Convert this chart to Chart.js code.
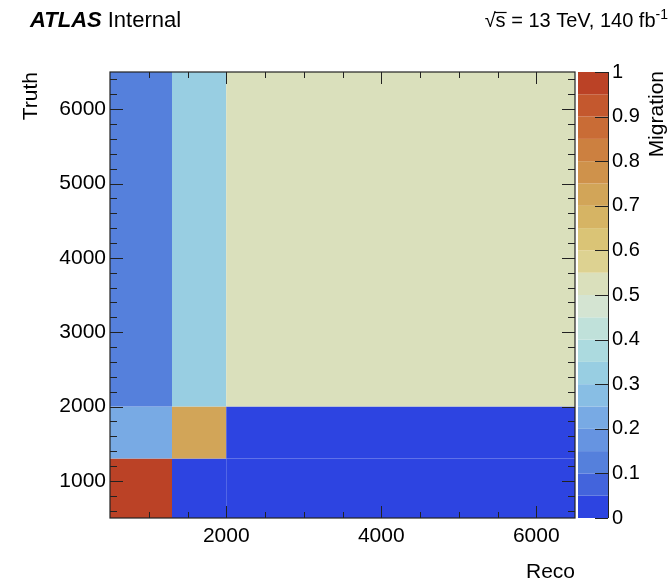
<!DOCTYPE html>
<html>
<head>
<meta charset="utf-8">
<script src="https://cdn.jsdelivr.net/npm/chart.js@4"></script>
<style>
  body { margin: 0; background: #fff; }
  #wrap { width: 669px; height: 585px; }
</style>
</head>
<body>
<div id="wrap"><canvas id="migrationMatrix"></canvas></div>
<script>
// bin edges (reco on x, truth on y)
var recoEdges = [500, 1300, 2000, 6500];
var truthEdges = [500, 1300, 2000, 6500];
// migration fractions, one row per truth bin, one column per reco bin
var migrationRow1 = [0.97, 0.02, 0.01];
var migrationRow2 = [0.22, 0.74, 0.04];
var migrationRow3 = [0.12, 0.33, 0.54];
var migration = [migrationRow1, migrationRow2, migrationRow3];

var xTickLabels = [2000, 4000, 6000];
var yTickLabels = [1000, 2000, 3000, 4000, 5000, 6000];
var zTickLabels = [0, 0.1, 0.2, 0.3, 0.4, 0.5, 0.6, 0.7, 0.8, 0.9, 1];

// 20 colour levels, 0 -> 1
var palette = [
    'rgb(45,68,225)', 'rgb(67,100,220)', 'rgb(85,128,220)', 'rgb(102,148,225)',
    'rgb(120,170,228)', 'rgb(136,190,228)', 'rgb(152,206,226)', 'rgb(172,218,223)',
    'rgb(192,225,218)', 'rgb(212,228,210)', 'rgb(218,224,188)', 'rgb(221,210,145)',
    'rgb(218,196,118)', 'rgb(214,180,100)', 'rgb(210,165,88)', 'rgb(207,146,75)',
    'rgb(204,128,64)', 'rgb(201,108,54)', 'rgb(196,88,46)', 'rgb(187,66,38)'
];

var FONT = '"Liberation Sans", Arial, Helvetica, sans-serif';

function levelColor(v) {
    var k = Math.floor(v * palette.length);
    if (k >= palette.length) k = palette.length - 1;
    if (k < 0) k = 0;
    return palette[k];
}

var histPlugin = {
    id: 'hist2d',
    beforeDatasetsDraw: function(chart) {
        var ctx = chart.ctx;
        var x = chart.scales.x, y = chart.scales.y, cb = chart.scales.cb;
        ctx.save();
        for (var j = 0; j < truthEdges.length - 1; j++) {
            for (var i = 0; i < recoEdges.length - 1; i++) {
                var x0 = x.getPixelForValue(recoEdges[i]);
                var x1 = x.getPixelForValue(recoEdges[i + 1]);
                var y0 = y.getPixelForValue(truthEdges[j + 1]);
                var y1 = y.getPixelForValue(truthEdges[j]);
                ctx.fillStyle = levelColor(migration[j][i]);
                ctx.fillRect(x0, y0, x1 - x0, y1 - y0);
            }
        }
        // colour bar
        var bx0 = cb.left + 3, bx1 = cb.left + 33;
        for (var k = 0; k < palette.length; k++) {
            var t = cb.getPixelForValue((k + 1) / palette.length);
            var b = cb.getPixelForValue(k / palette.length);
            ctx.fillStyle = palette[k];
            ctx.fillRect(bx0, t, bx1 - bx0, b - t);
        }
        ctx.restore();
    },
    afterDatasetsDraw: function(chart) {
        var ctx = chart.ctx;
        var x = chart.scales.x, y = chart.scales.y, cb = chart.scales.cb;
        var a = chart.chartArea;
        ctx.save();
        ctx.strokeStyle = '#222';
        ctx.lineWidth = 1.2;
        ctx.strokeRect(a.left, a.top, a.right - a.left, a.bottom - a.top);
        ctx.lineWidth = 1;
        ctx.beginPath();
        var v, p, len;
        for (v = 1000; v < 6500; v += 500) {
            p = Math.round(x.getPixelForValue(v)) + 0.5;
            len = v % 2000 === 0 ? 12 : 6;
            ctx.moveTo(p, a.bottom); ctx.lineTo(p, a.bottom - len);
            ctx.moveTo(p, a.top); ctx.lineTo(p, a.top + len);
        }
        for (v = 600; v < 6500; v += 200) {
            p = Math.round(y.getPixelForValue(v)) + 0.5;
            len = v % 1000 === 0 ? 13 : 7;
            ctx.moveTo(a.left, p); ctx.lineTo(a.left + len, p);
            ctx.moveTo(a.right, p); ctx.lineTo(a.right - len, p);
        }
        // colour bar axis
        var bx1 = cb.left + 33;
        ctx.moveTo(bx1 + 0.5, a.top); ctx.lineTo(bx1 + 0.5, a.bottom);
        for (var k = 0; k < zTickLabels.length; k++) {
            p = Math.round(cb.getPixelForValue(zTickLabels[k])) + 0.5;
            ctx.moveTo(bx1, p); ctx.lineTo(bx1 - 13, p);
        }
        ctx.stroke();
        ctx.restore();
    },
    afterDraw: function(chart) {
        var ctx = chart.ctx;
        ctx.save();
        ctx.fillStyle = '#000';
        ctx.textBaseline = 'alphabetic';
        ctx.font = 'italic bold 22px ' + FONT;
        ctx.fillText('ATLAS', 30, 27);
        var w = ctx.measureText('ATLAS').width;
        ctx.font = '22px ' + FONT;
        ctx.fillText('Internal', 30 + w + 6, 27);

        // sqrt(s) = 13 TeV, 140 fb^-1
        ctx.font = '14px ' + FONT;
        var sup = '-1';
        var supW = ctx.measureText(sup).width;
        ctx.font = '20px ' + FONT;
        var main = ' = 13 TeV, 140 fb';
        var mainW = ctx.measureText(main).width;
        var rootW = ctx.measureText('\u221A').width;
        var sW = ctx.measureText('s').width;
        var xEnd = 668 - supW;
        var x0 = xEnd - mainW - sW - rootW;
        ctx.fillText('\u221A', x0, 27);
        ctx.fillText('s', x0 + rootW, 27);
        ctx.fillText(main, x0 + rootW + sW, 27);
        ctx.beginPath();
        ctx.lineWidth = 1.2;
        ctx.strokeStyle = '#000';
        ctx.moveTo(x0 + rootW - 1, 12.5);
        ctx.lineTo(x0 + rootW + sW + 1, 12.5);
        ctx.stroke();
        ctx.font = '14px ' + FONT;
        ctx.fillText(sup, xEnd, 19);

        // z axis title
        ctx.font = '21px ' + FONT;
        ctx.translate(657, chart.chartArea.top - 1);
        ctx.rotate(-Math.PI / 2);
        ctx.textAlign = 'right';
        ctx.textBaseline = 'middle';
        ctx.fillText('Migration', 0, 0);
        ctx.restore();
    }
};

var config = {
    type: 'scatter',
    data: {
        datasets: [{ data: [], pointRadius: 0 }]
    },
    plugins: [histPlugin],
    options: {
        responsive: false,
        animation: false,
        events: [],
        layout: { padding: { top: 72, left: 0, right: 0, bottom: 0 } },
        plugins: {
            legend: { display: false },
            tooltip: { enabled: false }
        },
        scales: {
            x: {
                type: 'linear',
                min: 500,
                max: 6500,
                grid: { display: false, drawTicks: false },
                border: { display: false },
                afterBuildTicks: function(s) { s.ticks = xTickLabels.map(function(v) { return { value: v }; }); },
                afterFit: function(s) { s.height = 67; },
                ticks: {
                    color: '#000',
                    font: { family: FONT, size: 21 },
                    padding: 6,
                    maxRotation: 0,
                    autoSkip: false,
                    callback: function(v) { return String(v); }
                },
                title: {
                    display: true,
                    text: 'Reco',
                    align: 'end',
                    color: '#000',
                    font: { family: FONT, size: 21 },
                    padding: { top: 0, bottom: 0 }
                }
            },
            y: {
                type: 'linear',
                min: 500,
                max: 6500,
                grid: { display: false, drawTicks: false },
                border: { display: false },
                afterBuildTicks: function(s) { s.ticks = yTickLabels.map(function(v) { return { value: v }; }); },
                afterFit: function(s) { s.width = 110; },
                ticks: {
                    color: '#000',
                    font: { family: FONT, size: 21 },
                    padding: 4,
                    autoSkip: false,
                    callback: function(v) { return String(v); }
                },
                title: {
                    display: true,
                    text: 'Truth',
                    align: 'end',
                    color: '#000',
                    font: { family: FONT, size: 21 },
                    padding: { top: 19, bottom: 0 }
                }
            },
            cb: {
                type: 'linear',
                axis: 'y',
                position: 'right',
                min: 0,
                max: 1,
                grid: { display: false, drawTicks: false },
                border: { display: false },
                afterBuildTicks: function(s) { s.ticks = zTickLabels.map(function(v) { return { value: v }; }); },
                afterFit: function(s) { s.width = 94; },
                ticks: {
                    color: '#000',
                    font: { family: FONT, size: 20 },
                    padding: 37,
                    autoSkip: false,
                    callback: function(v) { return String(Math.round(v * 10) / 10); }
                }
            }
        }
    }
};

window.onload = function() {
    var ctx = document.getElementById('migrationMatrix');
    ctx.width = 669;
    ctx.height = 585;
    window.migrationChart = new Chart(ctx.getContext('2d'), config);
};
</script>
</body>
</html>
